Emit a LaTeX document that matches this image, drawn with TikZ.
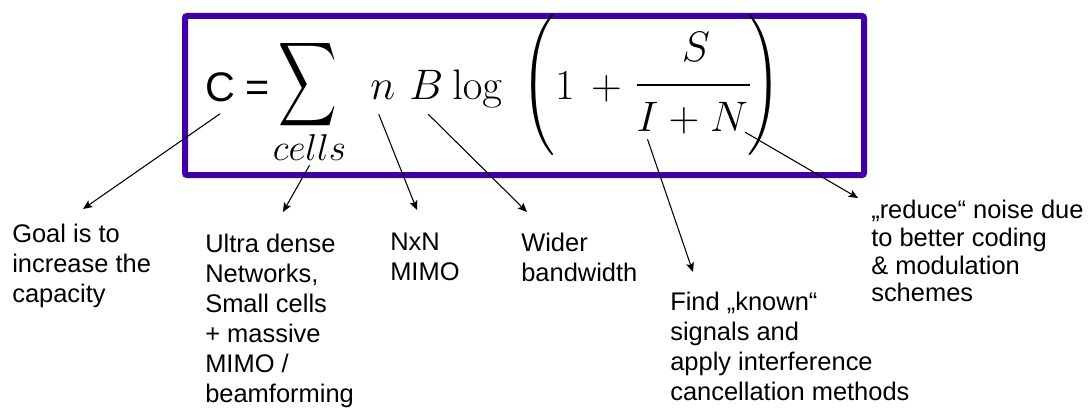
\RequirePackage{fix-cm}
\documentclass[tikz,border=0pt]{standalone}
\usepackage[no-math]{fontspec}
\setmainfont{Liberation Sans}
\usepackage{amsmath}
\usepackage{graphicx}
\usetikzlibrary{positioning,arrows.meta}
\definecolor{boxpurple}{RGB}{64,0,168}
\DeclareFontShape{OMX}{cmex}{m}{n}{<-> cmex10}{}

\begin{document}
\begin{tikzpicture}[
  x=0.75pt, y=-0.75pt,
  eqn/.style={inner sep=0pt, font=\fontsize{32}{38}\selectfont},
  note/.style={inner sep=0pt, anchor=north west, align=left,
    font=\fontsize{19.1}{22.5}\selectfont},
  pointer/.style={-{Stealth[length=7pt, width=6pt, inset=1.5pt]}, line width=0.8pt},
]
  \useasboundingbox (0,0) rectangle (1092,410);

  % Frame round the formula
  \draw[boxpurple, line width=4.5pt, rounded corners=1.5pt] (185,16) rectangle (864,175);

  % Formula
  \node[eqn, anchor=base west, font=\fontsize{31}{37}\selectfont] (csym) at (205,102) {C};
  \node[eqn, anchor=base, font=\fontsize{31}{37}\selectfont] (eqs) at (258,102) {=};
  \node[inner sep=0pt] (sum) at (307.5,85) {\resizebox*{44pt}{70.5pt}{$\displaystyle\sum$}};
  \node[eqn, anchor=base, font=\fontsize{28}{34}\selectfont] (cells) at (309.5,160) {$cells$};
  \node[eqn, anchor=base west] (nv) at (370,99) {$n$};
  \node[eqn, anchor=base west] (bv) at (409,99) {$B$};
  \node[eqn, anchor=base west] (lg) at (452,99) {$\log$};
  \node[eqn] (lp) at (538.5,85) {\scalebox{1}[1.1]{$\Biggl($}};
  \node[eqn, anchor=base] (one) at (565,99) {$1$};
  \node[eqn, anchor=base] (pa) at (606.5,99) {$+$};
  \node[eqn, anchor=base] (sv) at (696,62) {$S$};
  \draw[line width=1.6pt] (637,85) -- (750,85);
  \node[eqn, anchor=base] (iv) at (647.5,132) {$I$};
  \node[eqn, anchor=base] (pb) at (684,132) {$+$};
  \node[eqn, anchor=base] (nn) at (729,132) {$N$};
  \node[eqn] (rp) at (764,85) {\scalebox{1}[1.1]{$\Biggr)$}};

  % Notes
  \node[note] (goal) at (12,223.5) {Goal is to\\increase the\\capacity};
  \node[note] (udn) at (205,233.5) {Ultra dense\\Networks,\\Small cells\\+ massive\\MIMO /\\beamforming};
  \node[note] (mimo) at (390,233) {NxN\\MIMO};
  \node[note] (bw) at (521,233) {Wider\\bandwidth};
  \node[note] (find) at (670,292) {Find „known“\\signals and\\apply interference\\cancellation methods};
  \node[note, font=\fontsize{19.1}{20.8}\selectfont] (noise) at (871,200)
    {„reduce“ noise due\\to better coding\\\& modulation\\schemes};

  % Arrow tips
  \coordinate (tc) at (83,209);
  \coordinate (tu) at (283,212);
  \coordinate (tm) at (417,210);
  \coordinate (tb) at (527,212);
  \coordinate (tf) at (693,272);
  \coordinate (tn) at (858,198);

  \draw[pointer] ([shift={(0,11)}]csym.south) -- (tc);
  \draw[pointer] ([shift={(0,5)}]cells.south) -- (tu);
  \draw[pointer] ([shift={(-4,15)}]nv.south) -- (tm);
  \draw[pointer] ([shift={(2,15)}]bv.south) -- (tb);
  \draw[pointer] ([shift={(0,7)}]iv.south) -- (tf);
  \draw[pointer] ([shift={(-3,0)}]nn.south east) -- (tn);
\end{tikzpicture}
\end{document}
